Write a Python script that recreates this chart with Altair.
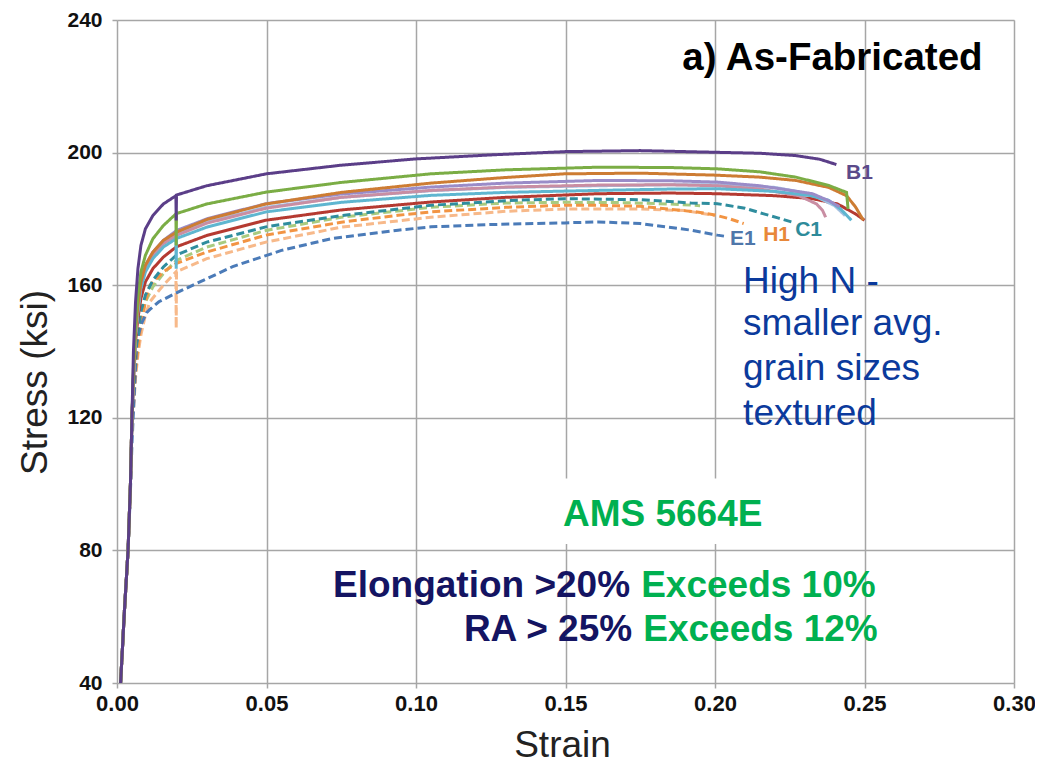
import altair as alt
import pandas as pd

# ---------------- data ----------------
EL_S = [0.0012, 0.0025, 0.0037, 0.0045, 0.005]
EL_Y = [40, 62, 80, 100, 120]

b1_s = EL_S + [0.0055, 0.0062, 0.007, 0.008, 0.0095, 0.012, 0.0155, 0.0197, 0.0198, 0.0199, 0.03, 0.05, 0.075, 0.10, 0.125, 0.15, 0.175, 0.20, 0.215, 0.227, 0.235, 0.2406]
b1_y = EL_Y + [140, 155, 165, 172, 177, 181, 184.5, 187, 179.5, 187.2, 190, 193.6, 196.2, 198.1, 199.3, 200.3, 200.6, 200.1, 199.8, 199.1, 198, 196.4]

grn_s = EL_S + [0.0055, 0.0062, 0.007, 0.008, 0.0095, 0.012, 0.0155, 0.0197, 0.0198, 0.0199, 0.03, 0.05, 0.075, 0.105, 0.13, 0.161, 0.185, 0.2008, 0.215, 0.227, 0.238, 0.244, 0.2445]
grn_y = EL_Y + [135, 148, 157, 164, 169, 174, 178, 181.5, 172, 181.6, 184.5, 188.1, 191, 193.6, 194.8, 195.6, 195.5, 195.1, 194.2, 192.6, 190.1, 188, 183]

org_s = EL_S + [0.0055, 0.0062, 0.007, 0.008, 0.0095, 0.012, 0.0155, 0.0199, 0.03, 0.0498, 0.075, 0.105, 0.13, 0.1497, 0.175, 0.2, 0.215, 0.227, 0.238, 0.244, 0.247, 0.2496]
org_y = EL_Y + [133, 146, 154, 161, 166, 170, 173.5, 176, 179.8, 184.5, 188, 190.8, 192.5, 193.6, 193.8, 193.2, 192.6, 191.6, 189.5, 187, 183.6, 179.6]

lav_s = EL_S + [0.0055, 0.0062, 0.007, 0.008, 0.0095, 0.012, 0.0155, 0.0199, 0.03, 0.0498, 0.075, 0.105, 0.13, 0.161, 0.185, 0.2008, 0.215, 0.2326, 0.238, 0.2416]
lav_y = EL_Y + [133, 146, 154, 161, 166, 170, 173.5, 176.5, 180, 184.6, 187.5, 189.6, 190.8, 191.6, 191.5, 191.1, 190, 187.6, 185.5, 183.7]

pnk_s = EL_S + [0.0055, 0.0062, 0.007, 0.008, 0.0095, 0.012, 0.0155, 0.0199, 0.03, 0.0498, 0.075, 0.105, 0.13, 0.161, 0.185, 0.2008, 0.215, 0.228, 0.234, 0.236, 0.237]
pnk_y = EL_Y + [132, 145, 153, 160, 165, 169, 172.5, 175, 178.7, 183.2, 186.5, 188.6, 189.6, 190.2, 190.3, 190, 189, 187, 184.5, 182.5, 180.5]

stb_s = EL_S + [0.0055, 0.0062, 0.007, 0.008, 0.0095, 0.012, 0.0155, 0.0199, 0.03, 0.0498, 0.075, 0.105, 0.13, 0.161, 0.185, 0.2008, 0.22, 0.232, 0.24, 0.2435]
stb_y = EL_Y + [132, 145, 153, 160, 165, 169.5, 173, 175.5, 179, 183.5, 186.5, 188.5, 189.5, 190, 190.3, 190.3, 189.5, 187.5, 184, 181]

cyn_s = EL_S + [0.0055, 0.0062, 0.007, 0.008, 0.0095, 0.012, 0.0155, 0.0197, 0.0198, 0.0199, 0.03, 0.0498, 0.075, 0.105, 0.13, 0.161, 0.185, 0.2008, 0.22, 0.232, 0.238, 0.242, 0.2456]
cyn_y = EL_Y + [132, 145, 152, 159, 164, 168, 171.5, 174, 165, 174.1, 177.5, 182.1, 185, 187.1, 188, 188.6, 189, 189.1, 188.3, 187, 185.6, 183, 179.6]

red_s = EL_S + [0.0055, 0.0062, 0.007, 0.008, 0.0095, 0.012, 0.0155, 0.0199, 0.03, 0.0498, 0.075, 0.105, 0.13, 0.161, 0.185, 0.2008, 0.22, 0.2326, 0.241, 0.247, 0.25]
red_y = EL_Y + [130, 143, 150, 156, 161, 165, 168.5, 171.6, 175, 179.6, 182.7, 185.1, 186.5, 187.6, 187.8, 187.6, 187, 186.1, 184.5, 181.5, 179.6]

c1_s = EL_S + [0.0055, 0.0062, 0.007, 0.008, 0.0095, 0.012, 0.0155, 0.0199, 0.03, 0.0498, 0.075, 0.105, 0.13, 0.1497, 0.175, 0.192, 0.2008, 0.21, 0.216, 0.221, 0.226]
c1_y = EL_Y + [128, 139, 146, 152, 157, 161.5, 165.5, 169.1, 173, 177.6, 181, 184.1, 185.5, 186.1, 185.8, 184.8, 184.6, 183.2, 181.6, 180.3, 179]

lgd_s = EL_S + [0.0055, 0.0062, 0.007, 0.008, 0.0095, 0.012, 0.0155, 0.0199, 0.03, 0.0498, 0.075, 0.105, 0.13, 0.15, 0.17, 0.185, 0.195]
lgd_y = EL_Y + [126, 137, 144, 150, 155, 159.5, 163.5, 167.5, 171.5, 176.5, 180.5, 183.5, 184.8, 185, 184.9, 184.5, 184]

lod_s = EL_S + [0.0055, 0.0062, 0.007, 0.008, 0.0095, 0.011, 0.0155, 0.0197, 0.0198, 0.0199, 0.03, 0.0498, 0.075, 0.105, 0.13, 0.15, 0.175, 0.19, 0.2]
lod_y = EL_Y + [122, 132, 139, 145, 151, 155, 160, 164, 147, 164.1, 168, 173, 177.5, 180.5, 182.3, 183, 183, 182.5, 181]

h1_s = EL_S + [0.0055, 0.0062, 0.007, 0.008, 0.0095, 0.011, 0.0155, 0.0199, 0.03, 0.0498, 0.075, 0.094, 0.105, 0.13, 0.1497, 0.161, 0.175, 0.194, 0.2, 0.205, 0.2096]
h1_y = EL_Y + [124, 134, 141, 148, 155, 160, 164, 166.6, 170, 175.1, 179, 181.1, 182.1, 183.5, 184.1, 184.1, 183.8, 182.1, 181.2, 180, 178.6]

e1_s = EL_S + [0.0055, 0.0066, 0.008, 0.0099, 0.011, 0.014, 0.0199, 0.0387, 0.055, 0.072, 0.094, 0.105, 0.125, 0.1497, 0.161, 0.175, 0.192, 0.2008, 0.203]
e1_y = [40, 62, 80, 98, 112] + [122, 142.7, 148, 151.7, 152.7, 155, 157.7, 165.6, 170.5, 174.1, 176.6, 177.6, 178.3, 178.8, 179.1, 178.6, 176.6, 175.1, 174.8]

curves = [
    ("lt_orange_d", "dashed", lod_s, lod_y),
    ("lt_green_d", "dashed", lgd_s, lgd_y),
    ("H1", "dashed", h1_s, h1_y),
    ("E1", "dashed", e1_s, e1_y),
    ("C1", "dashed", c1_s, c1_y),
    ("red", "solid", red_s, red_y),
    ("steel", "solid", stb_s, stb_y),
    ("pink", "solid", pnk_s, pnk_y),
    ("cyan", "solid", cyn_s, cyn_y),
    ("lavender", "solid", lav_s, lav_y),
    ("orange", "solid", org_s, org_y),
    ("green", "solid", grn_s, grn_y),
    ("B1", "solid", b1_s, b1_y),
]
curve_names = [c[0] for c in curves]
curve_colors = ["#f7b98a", "#a9cb7f", "#f29443", "#4b7bb8", "#2f8d9e",
                "#b53a31", "#a3bfe0", "#c98ea3", "#5fb6d0", "#9a8cc8",
                "#cd7c33", "#7bad45", "#5b3e88"]

rows = []
for name, style, ss, yy in curves:
    for i, (s, y) in enumerate(zip(ss, yy)):
        rows.append({"curve": name, "style": style, "strain": s, "stress": y, "idx": i})
df = pd.DataFrame(rows)

x_ticks = [0.0, 0.05, 0.10, 0.15, 0.20, 0.25, 0.30]
y_ticks = [40, 80, 120, 160, 200, 240]

FONT = "Liberation Sans"

xs = alt.Scale(domain=[0, 0.30], nice=False, zero=False)
ys = alt.Scale(domain=[40, 240], nice=False, zero=False)

lines = alt.Chart(df).mark_line(strokeWidth=3, strokeCap="butt").encode(
    x=alt.X("strain:Q", scale=xs,
            axis=alt.Axis(values=x_ticks, format=".2f", title="Strain",
                          labelFont=FONT, labelFontSize=22, labelFontWeight="bold",
                          labelColor="#111", labelPadding=5, labelFlush=False,
                          titleFont=FONT, titleFontSize=37, titleFontWeight="normal",
                          titleColor="#222", titleX=445, titleY=62, titleBaseline="middle",
                          titleAnchor="start", titleAlign="center",
                          grid=True, gridColor="#a6a6a6", gridWidth=1.5,
                          tickColor="#a6a6a6", tickSize=5, tickWidth=1.5,
                          domain=False)),
    y=alt.Y("stress:Q", scale=ys,
            axis=alt.Axis(values=y_ticks, title="Stress (ksi)",
                          labelFont=FONT, labelFontSize=21, labelFontWeight="bold",
                          labelColor="#111", labelPadding=10, labelFlush=False,
                          titleFont=FONT, titleFontSize=37, titleFontWeight="normal",
                          titleColor="#222", titleX=-82, titleY=362, titleBaseline="middle",
                          titleAlign="center", titleAngle=-90,
                          grid=True, gridColor="#a6a6a6", gridWidth=1.5,
                          tickColor="#a6a6a6", tickSize=5, tickWidth=1.5,
                          domain=False)),
    color=alt.Color("curve:N", scale=alt.Scale(domain=curve_names, range=curve_colors), legend=None),
    strokeDash=alt.StrokeDash("style:N", scale=alt.Scale(domain=["solid", "dashed"], range=[[1, 0], [8, 4]]), legend=None),
    order="idx:Q",
)

# white box behind "AMS 5664E"
box_df = pd.DataFrame({"x": [0.145], "x2": [0.247], "y": [81.9], "y2": [101.7]})
box = alt.Chart(box_df).mark_rect(color="white").encode(
    x=alt.X("x:Q", scale=xs), x2="x2:Q", y=alt.Y("y:Q", scale=ys), y2="y2:Q")

# curve labels
lab_text = ["B1", "E1", "H1", "C1"]
lab_x = [0.2483, 0.2093, 0.2206, 0.2313]
lab_y = [193.9, 173.8, 175.2, 176.7]
lab_col = ["#5b4a8a", "#4f77aa", "#e8883a", "#2e8b9a"]
lab_df = pd.DataFrame({"t": lab_text, "x": lab_x, "y": lab_y, "c": lab_col})
labels = alt.Chart(lab_df).mark_text(font=FONT, fontSize=21, fontWeight="bold", baseline="middle", align="center").encode(
    x=alt.X("x:Q", scale=xs), y=alt.Y("y:Q", scale=ys), text="t:N", color=alt.Color("c:N", scale=None))

def txt(texts, xv, yv, color, size=37, weight="normal", align="left", baseline="alphabetic"):
    d = pd.DataFrame({"t": texts, "x": xv, "y": yv})
    return alt.Chart(d).mark_text(font=FONT, fontSize=size, fontWeight=weight, align=align,
                                  baseline=baseline, color=color).encode(
        x=alt.X("x:Q", scale=xs), y=alt.Y("y:Q", scale=ys), text="t:N")

title_t = txt(["a) As-Fabricated"], [0.2895], [228.5], "#000000", size=38.5, weight="bold", align="right", baseline="middle")
highn_lines = ["High N -", "smaller avg.", "grain sizes", "textured"]
highn = txt(highn_lines, [0.2094] * 4, [157.7, 145.1, 131.3, 117.8], "#0b3a9c")
ams = txt(["AMS 5664E"], [0.1825], [87.3], "#00b050", weight="bold", align="center")
navy = txt(["Elongation >20%", "RA > 25%"], [0.1716, 0.1723], [66.0, 52.6], "#141462", weight="bold", align="right")
green = txt(["Exceeds 10%", "Exceeds 12%"], [0.1753, 0.1760], [66.0, 52.6], "#00b050", weight="bold", align="left")

chart = alt.layer(box, lines, labels, title_t, highn, ams, navy, green).properties(
    width=897, height=663,
    autosize=alt.AutoSizeParams(type="none"),
    padding={"left": 109, "top": 12, "right": 21, "bottom": 80},
).configure_view(stroke=None).configure(background="white")

chart.save("out.html", embed_options={"renderer": "svg", "actions": False})
